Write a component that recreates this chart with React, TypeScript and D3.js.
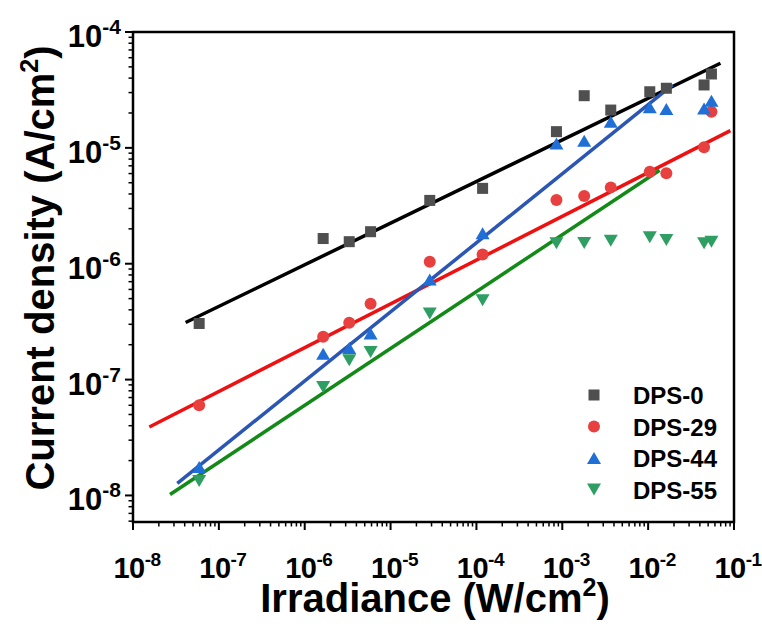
import React from "react";
import * as d3 from "d3";

const irradiance = [5.9e-8, 1.64e-6, 3.3e-6, 5.85e-6, 2.86e-5, 1.18e-4, 8.55e-4, 1.8e-3, 3.67e-3, 1.045e-2, 1.63e-2, 4.48e-2, 5.46e-2];
const dps0 = [3.05e-7, 1.65e-6, 1.55e-6, 1.89e-6, 3.52e-6, 4.47e-6, 1.38e-5, 2.82e-5, 2.12e-5, 3.05e-5, 3.27e-5, 3.49e-5, 4.34e-5];
const dps29 = [6.0e-8, 2.34e-7, 3.09e-7, 4.51e-7, 1.04e-6, 1.2e-6, 3.54e-6, 3.84e-6, 4.56e-6, 6.22e-6, 6.03e-6, 1.01e-5, 2.05e-5];
const dps44 = [1.76e-8, 1.67e-7, 1.87e-7, 2.5e-7, 7.31e-7, 1.83e-6, 1.09e-5, 1.15e-5, 1.68e-5, 2.24e-5, 2.16e-5, 2.19e-5, 2.55e-5];
const dps55 = [1.33e-8, 8.65e-8, 1.47e-7, 1.73e-7, 3.72e-7, 4.85e-7, 1.5e-6, 1.51e-6, 1.58e-6, 1.69e-6, 1.6e-6, 1.5e-6, 1.55e-6];

const seriesNames = ["DPS-0", "DPS-29", "DPS-44", "DPS-55"];
const seriesValues = [dps0, dps29, dps44, dps55];
const markerColors = ["#4f4f4f", "#e8403f", "#1f6fd6", "#2f9e62"];
const markerShapes = ["square", "circle", "triangle", "triangleDown"];

// linear fits (start point, end point)
const fitX = [
  [4.1e-8, 0.0695],
  [1.55e-8, 0.0908],
  [3.28e-8, 0.0193],
  [2.7e-8, 0.0136],
];
const fitY = [
  [3.11e-7, 5.37e-5],
  [3.9e-8, 1.41e-5],
  [1.27e-8, 3.49e-5],
  [1.02e-8, 6.4e-6],
];
const fitColors = ["#000000", "#ee1111", "#2b56b3", "#138a18"];

const xTickExps = [-8, -7, -6, -5, -4, -3, -2, -1];
const yTickExps = [-8, -7, -6, -5, -4];

const W = 762, H = 624;
const L = 133, R = 734, T = 32, B = 522;
const FONT = "'Liberation Sans', Arial, sans-serif";

function Marker({ shape, x, y, color }: { shape: string; x: number; y: number; color: string }) {
  if (shape === "square") return <rect x={x - 5.5} y={y - 5.5} width={11} height={11} fill={color} />;
  if (shape === "circle") return <circle cx={x} cy={y} r={6} fill={color} />;
  if (shape === "triangle")
    return <path d={`M${x},${y - 6} L${x + 7},${y + 6} L${x - 7},${y + 6} Z`} fill={color} />;
  return <path d={`M${x},${y + 6} L${x + 7},${y - 6} L${x - 7},${y - 6} Z`} fill={color} />;
}

export default function App() {
  const x = d3.scaleLog().domain([1e-8, 1e-1]).range([L, R]);
  const y = d3.scaleLog().domain([5.9e-9, 1e-4]).range([B, T]);

  const minorX: number[] = [];
  for (let e = -8; e < -1; e++) for (let k = 2; k <= 9; k++) minorX.push(k * Math.pow(10, e));
  const minorY: number[] = [];
  for (let e = -9; e < -4; e++)
    for (let k = 2; k <= 9; k++) {
      const v = k * Math.pow(10, e);
      if (v >= 5.9e-9 && v <= 1e-4) minorY.push(v);
    }

  const line = d3
    .line<[number, number]>()
    .x((d) => x(d[0]))
    .y((d) => y(d[1]));

  return (
    <svg width={W} height={H} style={{ position: "absolute", left: 0, top: 0, background: "#fff" }} fontFamily={FONT}>
      {fitX.map((fx, i) => (
        <path
          key={"fit" + i}
          d={line([[fx[0], fitY[i][0]], [fx[1], fitY[i][1]]]) || ""}
          stroke={fitColors[i]}
          strokeWidth={3.5}
          fill="none"
        />
      ))}
      {seriesValues.map((vals, si) => (
        <g key={"s" + si}>
          {vals.map((v, j) => (
            <Marker key={j} shape={markerShapes[si]} x={x(irradiance[j])} y={y(v)} color={markerColors[si]} />
          ))}
        </g>
      ))}
      <rect x={L} y={T} width={R - L} height={B - T} fill="none" stroke="#000" strokeWidth={2.5} />
      {xTickExps.map((e) => (
        <line key={"xt" + e} x1={x(Math.pow(10, e))} x2={x(Math.pow(10, e))} y1={B} y2={B + 8} stroke="#000" strokeWidth={2} />
      ))}
      {minorX.map((v, i) => (
        <line key={"xm" + i} x1={x(v)} x2={x(v)} y1={B} y2={B + 4.5} stroke="#000" strokeWidth={1.5} />
      ))}
      {yTickExps.map((e) => (
        <line key={"yt" + e} x1={L - 8} x2={L} y1={y(Math.pow(10, e))} y2={y(Math.pow(10, e))} stroke="#000" strokeWidth={2} />
      ))}
      {minorY.map((v, i) => (
        <line key={"ym" + i} x1={L - 4.5} x2={L} y1={y(v)} y2={y(v)} stroke="#000" strokeWidth={1.5} />
      ))}
      {xTickExps.map((e) => (
        <text key={"xl" + e} x={x(Math.pow(10, e)) + 4} y={578} textAnchor="middle" fontSize={29} fontWeight="bold" letterSpacing={-0.5}>
          10<tspan fontSize={19} dy={-12}>{e}</tspan>
        </text>
      ))}
      {yTickExps.map((e) => (
        <text key={"yl" + e} x={121} y={y(Math.pow(10, e)) + 15} textAnchor="end" fontSize={31} fontWeight="bold">
          10<tspan fontSize={21} dy={-13}>{e}</tspan>
        </text>
      ))}
      <text x={435} y={612} textAnchor="middle" fontSize={40} fontWeight="bold">
        Irradiance (W/cm<tspan fontSize={25} dy={-16}>2</tspan><tspan dy={16}>)</tspan>
      </text>
      <text transform={`translate(54,268) rotate(-90)`} textAnchor="middle" fontSize={40} fontWeight="bold">
        Current density (A/cm<tspan fontSize={25} dy={-16}>2</tspan><tspan dy={16}>)</tspan>
      </text>
      {seriesNames.map((n, i) => (
        <g key={"lg" + i}>
          <Marker shape={markerShapes[i]} x={594} y={395 + i * 31.5} color={markerColors[i]} />
          <text x={633} y={395 + i * 31.5 + 9} fontSize={24} fontWeight="bold">
            {n}
          </text>
        </g>
      ))}
    </svg>
  );
}
